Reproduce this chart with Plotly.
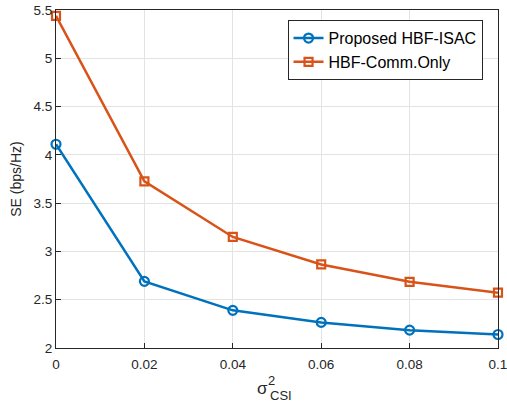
import plotly.graph_objects as go

# CSI error variance and spectral efficiency values
sigma_csi = [0, 0.02, 0.04, 0.06, 0.08, 0.1]
se_isac = [4.11, 2.69, 2.39, 2.265, 2.185, 2.14]
se_comm = [5.44, 3.725, 3.15, 2.865, 2.685, 2.573]
x_ticks = [0, 0.02, 0.04, 0.06, 0.08, 0.1]
x_tick_labels = ["0", "0.02", "0.04", "0.06", "0.08", "0.1"]
y_ticks = [2, 2.5, 3, 3.5, 4, 4.5, 5, 5.5]
y_tick_labels = ["2", "2.5", "3", "3.5", "4", "4.5", "5", "5.5"]

FONT = "Liberation Sans, Arial, Helvetica, sans-serif"
BLUE = "#0072BD"
ORANGE = "#D95319"

fig = go.Figure()
fig.add_trace(go.Scatter(
    x=sigma_csi, y=se_isac, mode="lines+markers", name="Proposed HBF-ISAC",
    line=dict(color=BLUE, width=2.5),
    marker=dict(symbol="circle-open", size=9, color=BLUE, line=dict(width=2.2, color=BLUE)),
    cliponaxis=False,
))
fig.add_trace(go.Scatter(
    x=sigma_csi, y=se_comm, mode="lines+markers", name="HBF-Comm.Only",
    line=dict(color=ORANGE, width=2.5),
    marker=dict(symbol="square-open", size=8, color=ORANGE, line=dict(width=2.2, color=ORANGE)),
    cliponaxis=False,
))

axis_common = dict(
    showgrid=True, gridcolor="#E3E3E3", gridwidth=1,
    showline=True, linecolor="#262626", linewidth=1, mirror=True,
    ticks="inside", ticklen=5, tickcolor="#262626",
    tickfont=dict(family=FONT, size=13.5, color="#262626"),
    zeroline=False, automargin=False, ticklabeloverflow="allow",
)

fig.update_layout(
    width=507, height=403,
    margin=dict(l=56, r=9, t=10, b=55),
    paper_bgcolor="white", plot_bgcolor="white",
    font=dict(family=FONT, color="#262626"),
    xaxis=dict(range=[0, 0.1], tickvals=x_ticks, ticktext=x_tick_labels,
               ticklabelstandoff=4, **axis_common),
    yaxis=dict(range=[2, 5.5], tickvals=y_ticks, ticktext=y_tick_labels,
               title=dict(text="SE (bps/Hz)", font=dict(family=FONT, size=14, color="#262626"),
                          standoff=8),
               **axis_common),
    legend=dict(
        x=0.965, y=0.97, xanchor="right", yanchor="top",
        bgcolor="white", bordercolor="#262626", borderwidth=1,
        font=dict(family=FONT, size=16, color="black"),
        tracegroupgap=0, itemwidth=30,
    ),
    showlegend=True,
)

# x-axis label: sigma with stacked superscript 2 and subscript CSI
fig.add_annotation(text="σ", xref="paper", yref="paper", x=0.468, y=0, yshift=-40,
                   showarrow=False, font=dict(family=FONT, size=17, color="#262626"),
                   xanchor="center", yanchor="middle")
fig.add_annotation(text="2", xref="paper", yref="paper", x=0.487, y=0, yshift=-32,
                   showarrow=False, font=dict(family=FONT, size=13, color="#262626"),
                   xanchor="center", yanchor="middle")
fig.add_annotation(text="CSI", xref="paper", yref="paper", x=0.509, y=0, yshift=-47,
                   showarrow=False, font=dict(family=FONT, size=13, color="#262626"),
                   xanchor="center", yanchor="middle")

fig.write_html("out.html")
